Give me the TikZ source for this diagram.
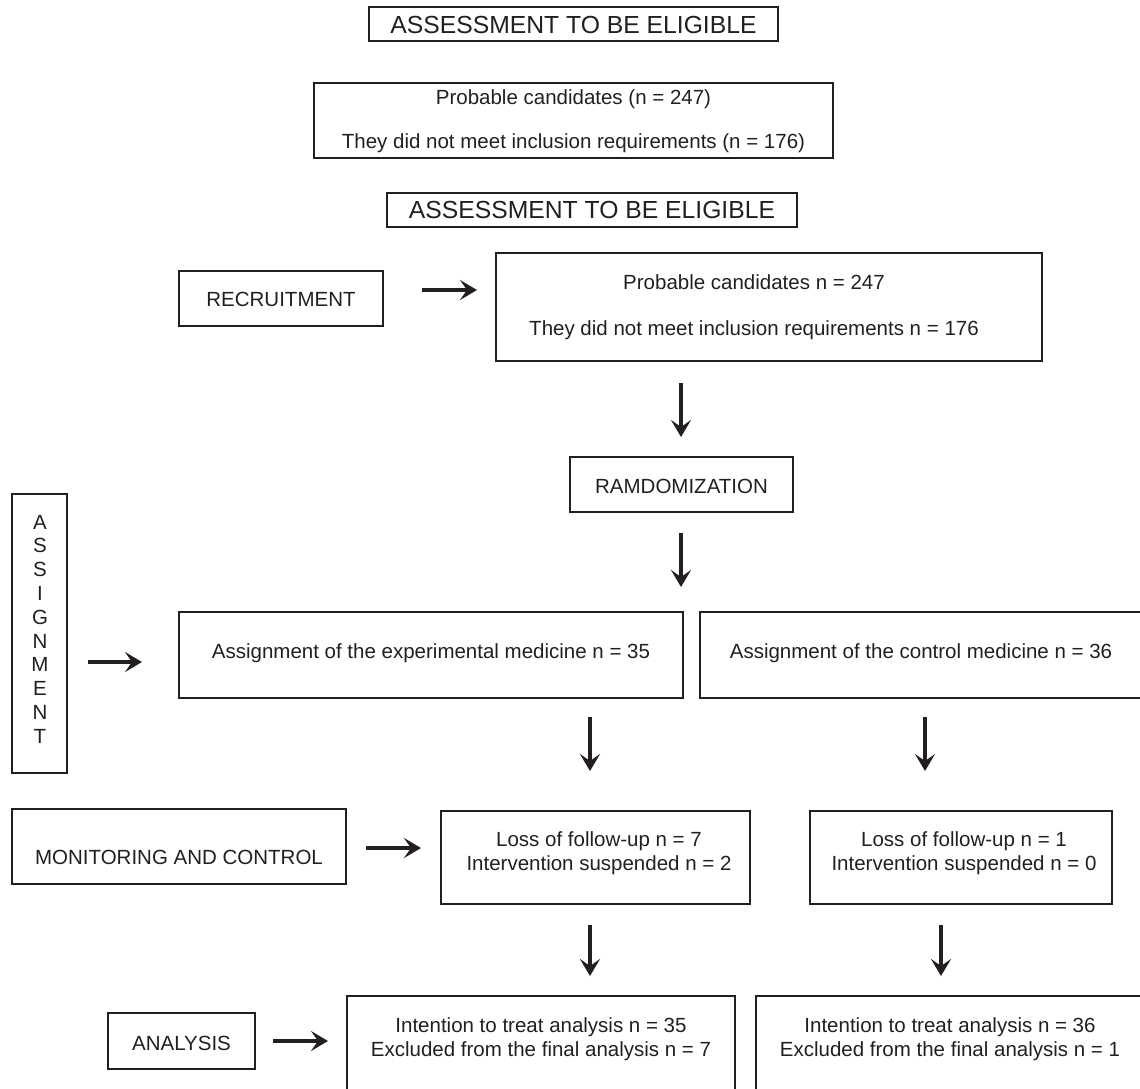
\documentclass[tikz,border=0pt]{standalone}
\usepackage{fontspec}
\setmainfont{Liberation Sans}
\usetikzlibrary{arrows.meta}
\definecolor{ink}{HTML}{231F20}
\begin{document}
\begin{tikzpicture}[x=1pt,y=-1pt,
  box/.style={draw=ink, line width=1.2pt, rectangle, inner sep=0pt},
  txt/.style={text=ink, font=\fontsize{20.5pt}{24pt}\selectfont, inner sep=0pt, anchor=base},
  head/.style={text=ink, font=\fontsize{24.7pt}{28pt}\selectfont, inner sep=0pt, anchor=base},
  flow/.style={draw=ink, line width=4pt, -{Stealth[length=17pt,width=20pt,inset=7pt]}},
  seam/.style={draw=ink, line width=2.4pt}
  ]
\path[use as bounding box] (0,0) rectangle (1140,1088);
\clip (0,0) rectangle (1140,1088);

% header 1
\node[box, minimum width=409pt, minimum height=34pt] (h1) at (573.5,24) {};
\node[head] (h1t) at (573.5,33) {ASSESSMENT TO BE ELIGIBLE};

% top candidate box
\node[box, minimum width=519pt, minimum height=75pt] (c1) at (573.5,120.5) {};
\node[txt] (c1a) at (573.5,104) {Probable candidates (n = 247)};
\node[txt] (c1b) at (573.5,148) {They did not meet inclusion requirements (n = 176)};

% header 2
\node[box, minimum width=410pt, minimum height=34pt] (h2) at (592,210) {};
\node[head] (h2t) at (592,218) {ASSESSMENT TO BE ELIGIBLE};

% recruitment
\node[box, minimum width=204pt, minimum height=55pt] (rec) at (281,298.5) {};
\node[txt] (rect) at (281,306) {RECRUITMENT};
\node[box, minimum width=546pt, minimum height=108pt] (cand) at (769,307) {};
\draw[seam] (496,268) -- (496,317);
\node[txt] (canda) at (754,289) {Probable candidates n = 247};
\node[txt] (candb) at (754,335) {They did not meet inclusion requirements n = 176};
\coordinate (r1) at (422,290); \coordinate (r2) at (477,290);
\draw[flow] (r1) -- (r2);

% randomization
\coordinate (d1a) at (681,383); \coordinate (d1b) at (681,437);
\draw[flow] (d1a) -- (d1b);
\node[box, minimum width=223pt, minimum height=55pt] (ram) at (681.5,484.5) {};
\draw[seam] (656,457) -- (707,457);
\node[txt] (ramt) at (681.5,493) {RAMDOMIZATION};
\coordinate (d2a) at (681,533); \coordinate (d2b) at (681,587);
\draw[flow] (d2a) -- (d2b);

% assignment
\node[box, minimum width=55pt, minimum height=279pt] (asg) at (39.5,633.5) {};
\foreach \l [count=\i from 0] in {A,S,S,I,G,N,M,E,N,T}
  \node[txt] (asg\i) at (40,529+\i*23.8) {\l};
\coordinate (a1) at (88,662); \coordinate (a2) at (142,662);
\draw[flow] (a1) -- (a2);
\node[box, minimum width=504pt, minimum height=86pt] (exp) at (431,655) {};
\node[txt] (expt) at (431,658) {Assignment of the experimental medicine n = 35};
\node[box, minimum width=442pt, minimum height=86pt] (ctl) at (921,655) {};
\node[txt] (ctlt) at (921,658) {Assignment of the control medicine n = 36};
\coordinate (e1) at (590,717); \coordinate (e2) at (590,771);
\draw[flow] (e1) -- (e2);
\coordinate (k1) at (925,717); \coordinate (k2) at (925,771);
\draw[flow] (k1) -- (k2);

% monitoring
\node[box, minimum width=334pt, minimum height=75pt] (mon) at (179,846.5) {};
\node[txt] (mont) at (179,864) {MONITORING AND CONTROL};
\coordinate (m1) at (366,848); \coordinate (m2) at (421,848);
\draw[flow] (m1) -- (m2);
\node[box, minimum width=309pt, minimum height=93pt] (lossa) at (595.5,857.5) {};
\node[txt] (lossa1) at (599,846) {Loss of follow-up n = 7};
\node[txt] (lossa2) at (599,870) {Intervention suspended n = 2};
\node[box, minimum width=302pt, minimum height=93pt] (lossb) at (961,857.5) {};
\node[txt] (lossb1) at (964,846) {Loss of follow-up n = 1};
\node[txt] (lossb2) at (964,870) {Intervention suspended n = 0};
\coordinate (f1) at (590,925); \coordinate (f2) at (590,976);
\draw[flow] (f1) -- (f2);
\coordinate (g1) at (941,925); \coordinate (g2) at (941,976);
\draw[flow] (g1) -- (g2);

% analysis
\node[box, minimum width=147pt, minimum height=56pt] (ana) at (181.5,1041) {};
\node[txt] (anat) at (181.5,1050) {ANALYSIS};
\coordinate (n1) at (273,1041); \coordinate (n2) at (328,1041);
\draw[flow] (n1) -- (n2);
\node[box, minimum width=388pt, minimum height=110pt] (itta) at (541,1051) {};
\draw[seam] (347,1013) -- (347,1062);
\node[txt] (itta1) at (541,1032) {Intention to treat analysis n = 35};
\node[txt] (itta2) at (541,1056) {Excluded from the final analysis n = 7};
\node[box, minimum width=388pt, minimum height=110pt] (ittb) at (950,1051) {};
\node[txt] (ittb1) at (950,1032) {Intention to treat analysis n = 36};
\node[txt] (ittb2) at (950,1056) {Excluded from the final analysis n = 1};
\end{tikzpicture}
\end{document}
